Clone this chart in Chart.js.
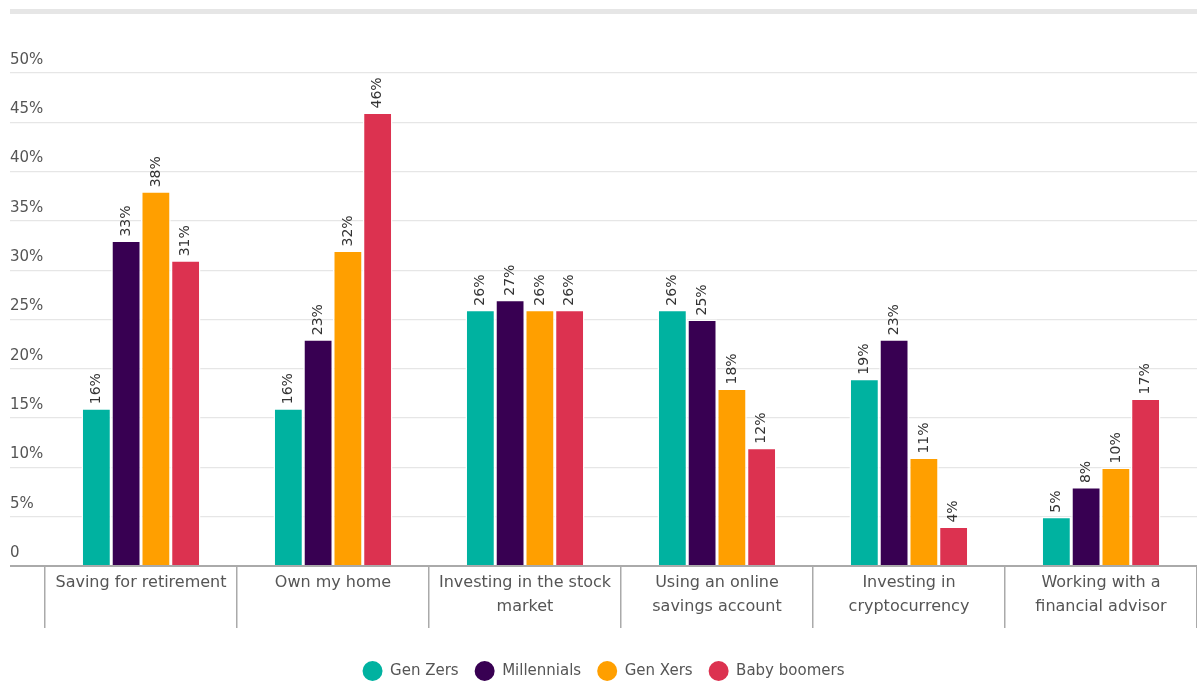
<!DOCTYPE html>
<html>
<head>
<meta charset="utf-8">
<script src="https://cdn.jsdelivr.net/npm/chart.js@4/dist/chart.umd.min.js"></script>
<style>
  html, body { margin: 0; padding: 0; background: #fff; overflow: hidden; }
  #wrap { position: relative; width: 1197px; height: 682px; overflow: hidden; }
  #topbar { position: absolute; top: 9px; left: 10px; right: 0; height: 5px; background: #e6e6e6; }
</style>
</head>
<body>
<div id="wrap">
  <div id="topbar"></div>
  <canvas id="myChart" width="1197" height="691"></canvas>
</div>
<script>
const categories = [
  ['Saving for retirement'],
  ['Own my home'],
  ['Investing in the stock', 'market'],
  ['Using an online', 'savings account'],
  ['Investing in', 'cryptocurrency'],
  ['Working with a', 'financial advisor']
];
const genZers = [16, 16, 26, 26, 19, 5];
const millennials = [33, 23, 27, 25, 23, 8];
const genXers = [38, 32, 26, 18, 11, 10];
const babyBoomers = [31, 46, 26, 12, 4, 17];
const yTicks = [0, 5, 10, 15, 20, 25, 30, 35, 40, 45, 50];

const FONT = '"DejaVu Sans", "Noto Sans", sans-serif';

// draws the rotated value above every bar
const barValues = {
  id: 'barValues',
  afterDatasetsDraw(chart) {
    const ctx = chart.ctx;
    ctx.save();
    ctx.font = '14px ' + FONT;
    ctx.fillStyle = '#333';
    ctx.textAlign = 'left';
    ctx.textBaseline = 'middle';
    chart.data.datasets.forEach((ds, i) => {
      chart.getDatasetMeta(i).data.forEach((bar, j) => {
        ctx.save();
        ctx.translate(bar.x, bar.y - 4);
        ctx.rotate(-Math.PI / 2);
        ctx.fillText(ds.data[j] + '%', 0, 0);
        ctx.restore();
      });
    });
    ctx.restore();
  }
};

const ctx = document.getElementById('myChart').getContext('2d');
const chart = new Chart(ctx, {
  type: 'bar',
  data: {
    labels: categories,
    datasets: [
      { label: 'Gen Zers', data: genZers, backgroundColor: '#00b2a0' },
      { label: 'Millennials', data: millennials, backgroundColor: '#380052' },
      { label: 'Gen Xers', data: genXers, backgroundColor: '#ff9f00' },
      { label: 'Baby boomers', data: babyBoomers, backgroundColor: '#dc3250' }
    ].map(d => Object.assign(d, {
      borderColor: '#fff',
      borderWidth: 1.5,
      barPercentage: 1,
      categoryPercentage: 0.62
    }))
  },
  plugins: [barValues],
  options: {
    responsive: false,
    animation: false,
    layout: { padding: { top: 73, left: 10, right: 0, bottom: 0 } },
    plugins: {
      legend: {
        position: 'bottom',
        labels: {
          generateLabels: c => Chart.defaults.plugins.legend.labels.generateLabels(c)
            .map(l => Object.assign(l, { strokeStyle: l.fillStyle, lineWidth: 0, borderRadius: 10 })),
          useBorderRadius: true,
          boxWidth: 20,
          boxHeight: 20,
          padding: 16,
          color: '#555',
          font: { family: FONT, size: 15 }
        }
      },
      tooltip: { enabled: false }
    },
    scales: {
      x: {
        border: { display: true, color: '#aaa', width: 2 },
        grid: {
          offset: true,
          drawOnChartArea: false,
          tickLength: 62,
          color: '#aaa',
          lineWidth: 1.5
        },
        ticks: {
          padding: -58,
          color: '#555',
          maxRotation: 0,
          font: { family: FONT, size: 16, lineHeight: 1.55 }
        },
        afterFit: s => { s.height = 79; }
      },
      y: {
        min: 0,
        max: 50,
        afterBuildTicks: s => { s.ticks = yTicks.map(v => ({ value: v })); },
        border: { display: false },
        grid: {
          tickLength: 35,
          color: c => (c.tick && c.tick.value === 0 ? '#aaa' : '#e6e6e6'),
          lineWidth: c => (c.tick && c.tick.value === 0 ? 2 : 1.2)
        },
        ticks: {
          crossAlign: 'far',
          labelOffset: -13,
          color: '#555',
          font: { family: FONT, size: 15 },
          callback: v => (v === 0 ? '0' : v + '%')
        },
        afterFit: s => { s.width = 35; }
      }
    }
  }
});
</script>
</body>
</html>
